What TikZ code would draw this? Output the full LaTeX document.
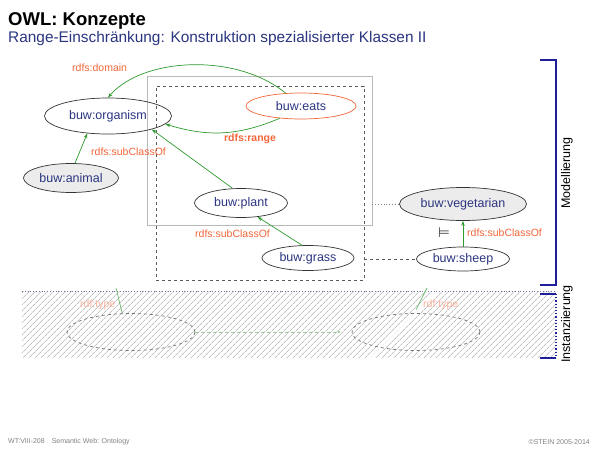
\documentclass[tikz,border=0pt]{standalone}
\usepackage{fontspec}
\setmainfont{Liberation Sans}
\newfontfamily\symfont{DejaVu Sans}
\usetikzlibrary{shapes.geometric,patterns.meta,arrows.meta}
\definecolor{owlblue}{HTML}{2A3580}
\definecolor{owlorange}{HTML}{F2663A}
\definecolor{owlgreen}{HTML}{2E9A2E}
\definecolor{barblue}{HTML}{1F1F9A}
\begin{document}
\begin{tikzpicture}[x=1pt,y=-1pt,
	cls/.style={ellipse,draw=black!80,line width=0.7pt,inner sep=0pt,text=owlblue,font=\fontsize{12.5}{14}\selectfont},
	inst/.style={ellipse,draw=black!55,dashed,line width=0.7pt,inner sep=0pt,minimum width=128pt,minimum height=37pt},
	lbl/.style={text=owlorange,inner sep=0pt,font=\fontsize{10.5}{12}\selectfont},
	sub/.style={-{Stealth[length=5pt,width=3.5pt]},owlgreen,line width=0.7pt},
	bar/.style={barblue,line width=1.5pt},
	side/.style={rotate=90,inner sep=0pt,font=\fontsize{12.5}{14}\selectfont},
	foot/.style={inner sep=0pt,text=gray,font=\fontsize{7}{8}\selectfont}]
	\useasboundingbox (0,0) rectangle (600,450);
	
	\node[anchor=base west,inner sep=0pt,font=\fontsize{18.5}{20}\selectfont\bfseries] (title) at (8,25) {OWL: Konzepte};
	\node[anchor=base west,inner sep=0pt,text=owlblue,font=\fontsize{15.4}{17}\selectfont] (subtitle) at (8,42) {Range-Einschränkung: Konstruktion spezialisierter Klassen II};
	
	\node[draw=gray!55,line width=0.8pt,inner sep=0pt,minimum width=225pt,minimum height=149pt] (scopebox) at (259.5,150.5) {};
	\node[draw=black!65,dashed,line width=0.8pt,inner sep=0pt,minimum width=208pt,minimum height=194pt] (dashbox) at (260,183) {};
	
	\node[cls,minimum width=127pt,minimum height=36pt] (organism) at (108,116) {buw:organism};
	\node[cls,fill=gray!15,minimum width=95pt,minimum height=29pt] (animal) at (71,178) {buw:animal};
	\node[cls,draw=owlorange,minimum width=110pt,minimum height=26pt] (eats) at (301,106) {buw:eats};
	\node[cls,minimum width=93pt,minimum height=29pt] (plant) at (241,203) {buw:plant};
	\node[cls,minimum width=92pt,minimum height=25pt] (grass) at (308,258) {buw:grass};
	\node[cls,fill=gray!15,minimum width=127pt,minimum height=33pt] (vegetarian) at (463,204) {buw:vegetarian};
	\node[cls,minimum width=93pt,minimum height=24pt] (sheep) at (463,259) {buw:sheep};
	
	\draw[sub] (eats.140) .. controls +(-50,-41) and +(34,-40) .. (organism.north);
	\draw[sub] (eats.210) to[bend left=20] (organism.-8);
	\draw[sub] (animal.75) -- (organism.-140);
	\draw[sub] (plant.120) -- (organism.-17);
	\draw[sub] (grass.115) -- (plant.-40);
	\draw[sub] (sheep) -- (vegetarian);
	\draw[dotted,gray,line width=0.8pt] (vegetarian -| scopebox.east) -- (vegetarian);
	\draw[dashed,black!65,line width=0.8pt] (sheep -| dashbox.east) -- (sheep);
	
	\node[lbl,anchor=west] (domain) at (72,68) {rdfs:domain};
	\node[lbl,font=\fontsize{10.5}{12}\selectfont\bfseries] (range) at (250,139) {rdfs:range};
	\node[lbl,anchor=west] (subanimal) at (91,152) {rdfs:subClassOf};
	\node[lbl,anchor=west] (subgrass) at (195,234) {rdfs:subClassOf};
	\node[lbl,anchor=west] (subsheep) at (467,233) {rdfs:subClassOf};
	\node[text=black!70,inner sep=0pt,font=\symfont\fontsize{14}{16}\selectfont] (entail) at (444,233) {⊨};
	
	\fill[pattern={Lines[angle=45,distance=4pt,line width=0.6pt]},pattern color=gray!75] (22,291) rectangle (556,357);
	\draw[dotted,owlblue!70,line width=0.8pt] (22,291) -- (556,291);
	\node[inst] (inst1) at (131,332) {};
	\node[inst] (inst2) at (416,332) {};
	\draw[dashed,owlgreen!50,line width=0.8pt,-{Stealth[length=3pt,width=3pt]},shorten >=11pt] (inst1) -- (inst2);
	\coordinate (type1) at (116,288);
	\coordinate (type2) at (427,288);
	\draw[owlgreen!70,line width=0.7pt] (type1) -- (inst1.115);
	\draw[owlgreen!70,line width=0.7pt,shorten >=4pt] (type2) -- (inst2.95);
	\node[lbl,anchor=west,text=owlorange!50] (rdftype1) at (80,305) {rdf:type};
	\node[lbl,anchor=west,text=owlorange!50] (rdftype2) at (423,305) {rdf:type};
	
	\draw[bar] (540,60) -- (556,60) -- (556,285) -- (540,285);
	\draw[bar] (540,294) -- (556,294);
	\draw[bar] (540,358) -- (556,358);
	\draw[barblue,dotted,line width=1.2pt] (556,294) -- (556,358);
	\node[side] (model) at (567,173) {Modellierung};
	\node[side] (instanz) at (567,324) {Instanziierung};
	
	\node[foot,anchor=west] (footleft) at (8,442) {WT:VIII-208\quad Semantic Web: Ontology};
	\node[foot,anchor=east] (footright) at (590,442) {\copyright STEIN 2005-2014};
\end{tikzpicture}
\end{document}
